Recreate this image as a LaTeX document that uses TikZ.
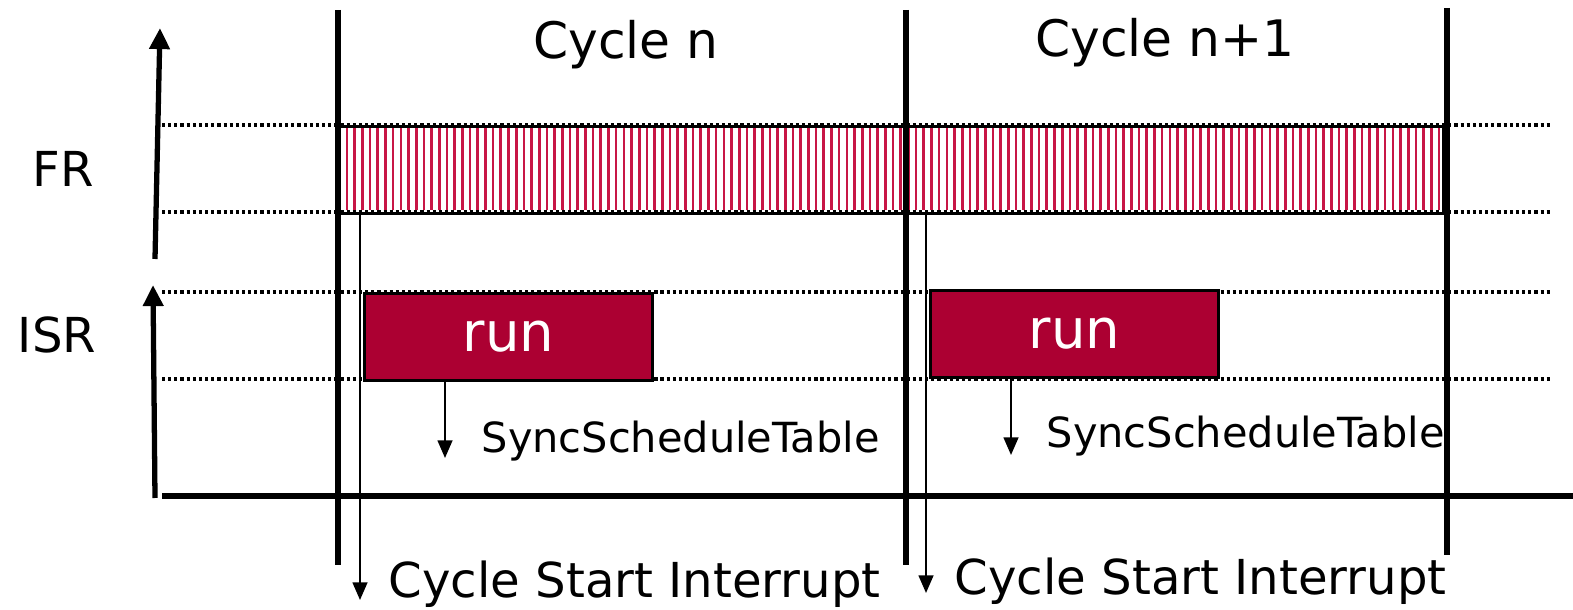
\documentclass[tikz,border=0pt]{standalone}
\usepackage{fontspec}
\setmainfont{DejaVu Sans}
\usepackage{xcolor}
\usepackage{tikz}
\usetikzlibrary{arrows.meta,positioning,calc}
\definecolor{runred}{RGB}{172,0,50}
\definecolor{hatchred}{RGB}{200,22,70}
\tikzset{
  % 周期分隔线
  cyclebar/.style={line width=1.8pt},
  % 坐标轴
  axis/.style={-{Triangle[length=6pt,width=5.6pt]}, line width=1.5pt},
  % 时间槽虚线
  slot/.style={dash pattern=on 0.9pt off 0.85pt, line width=0.9pt},
  % FR 帧
  frbar/.style={draw=black, line width=0.9pt, anchor=north west,
    minimum width=11.03cm, minimum height=0.87cm, inner sep=0pt},
  hatch/.style={hatchred, line width=0.75pt},
  % ISR 运行块
  runbox/.style={draw=black, line width=0.85pt, fill=runred, text=white,
    anchor=north west, minimum width=2.88cm, minimum height=0.87cm,
    inner sep=0pt, font=\fontsize{15.5}{18}\selectfont},
  % 事件箭头
  evt/.style={-{Triangle[length=5pt,width=4.2pt]}, line width=0.55pt},
  lab/.style={inner sep=0pt, font=\fontsize{13.7}{16}\selectfont},
  title/.style={inner sep=0pt, font=\fontsize{14.3}{17}\selectfont},
  small/.style={inner sep=0pt, font=\fontsize{11.8}{14}\selectfont},
}

\begin{document}
\begin{tikzpicture}[x=0.01cm, y=-0.01cm]
  \useasboundingbox (0,0) rectangle (1573,610);

  % Slot boundaries
  \foreach \y in {125,212,292,379}
    \draw[slot] (162,\y) -- (1550,\y);

  % FR frame with hatching
  \foreach \i in {0,...,142}
    \draw[hatch] ({347+7.69*\i},127) -- ({347+7.69*\i},210);
  \node[frbar] (fr) at (338,125) {};

  % ISR runs
  \node[runbox] (run1) at (363,292) {run};
  \node[runbox] (run2) at (929,289) {run};

  % Axes
  \coordinate (frlo) at (155,259);
  \coordinate (frhi) at (160,28);
  \coordinate (isrlo) at (155,498);
  \coordinate (isrhi) at (153,285);
  \draw[axis] (frlo) -- (frhi);
  \draw[axis] (isrlo) -- (isrhi);
  \draw[line width=1.5pt] (162,496) -- (1573,496);

  % Cycle boundaries
  \draw[cyclebar] (338,10) -- (338,565);
  \draw[cyclebar] (906,10) -- (906,565);
  \draw[cyclebar] (1447,8) -- (1447,555);

  % Labels
  \node[title, anchor=base] (cyc1) at (626,59) {Cycle n};
  \node[title, anchor=base] (cyc2) at (1165,57) {Cycle n+1};
  \node[lab, anchor=base] (frlab) at (63,187) {FR};
  \node[lab, anchor=base] (isrlab) at (57,353) {ISR};

  % SyncScheduleTable calls
  \coordinate (sync1) at (445,458);
  \coordinate (sync2) at (1011,455);
  \draw[evt] (run1.south -| sync1) -- (sync1);
  \draw[evt] (run2.south -| sync2) -- (sync2);
  \node[small, anchor=base west] (synclab1) at (481,453) {SyncScheduleTable};
  \node[small, anchor=base west] (synclab2) at (1046,448) {SyncScheduleTable};

  % Cycle start interrupts
  \coordinate (csi1) at (360,600);
  \coordinate (csi2) at (926,593);
  \draw[evt] (fr.south -| csi1) -- (csi1);
  \draw[evt] (fr.south -| csi2) -- (csi2);
  \node[lab, anchor=base west] (csilab1) at (388,598) {Cycle Start Interrupt};
  \node[lab, anchor=base west] (csilab2) at (954,595) {Cycle Start Interrupt};
\end{tikzpicture}
\end{document}
